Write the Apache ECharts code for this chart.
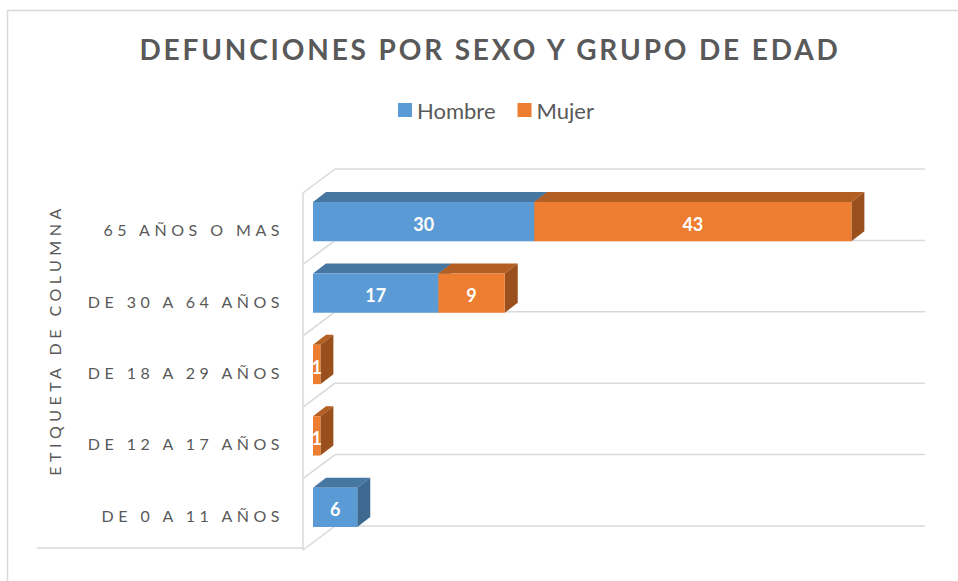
<!DOCTYPE html>
<html>
<head>
<meta charset="utf-8">
<script src="https://cdn.jsdelivr.net/npm/echarts@6/dist/echarts.min.js"></script>
<style>
  html, body { margin: 0; padding: 0; background: #fff; }
  #main { width: 958px; height: 581px; }
  /* espaciado de letras como en el original (solo textos en Lato "puro") */
  #main text[style*="Lato"]:not([style*="sans-serif"]) { letter-spacing: 4.5px; }
  #main text[style*="28px"][style*="Lato"] { letter-spacing: 2.85px; }
</style>
</head>
<body>
<div id="main"></div>
<script>
// datos (de abajo hacia arriba)
var categorias = ['DE 0 A 11 AÑOS', 'DE 12 A 17 AÑOS', 'DE 18 A 29 AÑOS', 'DE 30 A 64 AÑOS', '65 AÑOS O MAS'];
var hombre = [6, 0, 0, 17, 30];
var mujer = [0, 1, 1, 9, 43];
var ejeMax = 80;

var azul = ['#5B9BD5', '#4676A2', '#3E6A92'];     // frente, arriba, lado
var naranja = ['#ED7D31', '#B35E22', '#9A501C'];

// profundidad 3D
var barDepth = [13, -10];
var frontOff = [-10, 7];
var backOff = [22, -17];

var chart = echarts.init(document.getElementById('main'), null, {renderer: 'svg'});

function stackData(vals, base){
  var out = [];
  for (var i = 0; i < vals.length; i++) {
    var s = base ? base[i] : 0;
    out.push([s, s + vals[i], i, vals[i]]);
  }
  return out;
}

function makeBar(name, data, cols){
  return {
    name: name,
    type: 'custom',
    coordinateSystem: 'cartesian2d',
    color: cols[0],
    z: 5,
    data: data,
    renderItem: function(params, api){
      var start = api.value(0), end = api.value(1), cat = api.value(2), v = api.value(3);
      if (!(v > 0)) return;
      var p0 = api.coord([start, cat]);
      var p1 = api.coord([end, cat]);
      var h = api.size([0, 1])[1] * 0.55;
      var x0 = p0[0], x1 = p1[0];
      var yt = p0[1] - h / 2, yb = p0[1] + h / 2;
      var dx = barDepth[0], dy = barDepth[1];
      return {
        type: 'group',
        children: [
          {type: 'polygon', shape: {points: [[x0, yt], [x1, yt], [x1 + dx, yt + dy], [x0 + dx, yt + dy]]},
            style: {fill: cols[1]}},
          {type: 'polygon', shape: {points: [[x1, yt], [x1 + dx, yt + dy], [x1 + dx, yb + dy], [x1, yb]]},
            style: {fill: cols[2]}},
          {type: 'rect', shape: {x: x0, y: yt, width: x1 - x0, height: h},
            style: {fill: cols[0]}},
          {type: 'text', x: (x0 + x1) / 2, y: p0[1] + 2,
            style: {text: String(v), align: 'center', verticalAlign: 'middle',
              fill: '#fff', font: 'bold 18px Lato, sans-serif'}}
        ]
      };
    }
  };
}

// paredes y lineas de division
var frame = {
  type: 'custom',
  coordinateSystem: 'cartesian2d',
  silent: true,
  z: 1,
  data: [[0]],
  renderItem: function(params, api){
    var band = api.size([0, 1])[1];
    var base = api.coord([0, 0]);
    var right = api.coord([ejeMax, 0])[0];
    var kids = [];
    var ls = {stroke: '#D9D9D9', lineWidth: 1.5};
    var yBottom = base[1] + band / 2;
    var yTop = yBottom - categorias.length * band;
    kids.push({type: 'line', shape: {x1: base[0] + frontOff[0], y1: yTop + frontOff[1],
      x2: base[0] + frontOff[0], y2: yBottom + frontOff[1]}, style: ls});
    kids.push({type: 'line', shape: {x1: base[0] + frontOff[0] - 266, y1: yBottom + frontOff[1] - 2,
      x2: base[0] + frontOff[0], y2: yBottom + frontOff[1] - 2}, style: ls});
    for (var k = 0; k <= categorias.length; k++) {
      var y = yBottom - k * band;
      kids.push({type: 'line', shape: {x1: base[0] + frontOff[0], y1: y + frontOff[1],
        x2: base[0] + backOff[0], y2: y + backOff[1]}, style: ls});
      kids.push({type: 'line', shape: {x1: base[0] + backOff[0], y1: y + backOff[1],
        x2: right + backOff[0], y2: y + backOff[1]}, style: ls});
    }
    return {type: 'group', children: kids};
  }
};

var option = {
  backgroundColor: '#fff',
  animation: false,
  title: {
    text: 'DEFUNCIONES POR SEXO Y GRUPO DE EDAD',
    left: 485,
    textAlign: 'center',
    top: 30,
    textStyle: {fontFamily: 'Lato', fontSize: 28, fontWeight: 'bold', color: '#595959'}
  },
  legend: {
    top: 94,
    left: 393,
    icon: 'rect',
    itemWidth: 14,
    itemHeight: 14,
    itemGap: 22,
    textStyle: {fontFamily: 'Lato, sans-serif', fontSize: 22, color: '#595959'},
    data: ['Hombre', 'Mujer']
  },
  grid: {left: 313, top: 186, width: 590, height: 357},
  xAxis: {
    type: 'value', min: 0, max: ejeMax, show: false
  },
  yAxis: {
    type: 'category',
    data: categorias,
    axisLine: {show: false},
    axisTick: {show: false},
    splitLine: {show: false},
    axisLabel: {
      interval: 0,
      margin: 29,
      verticalAlign: 'top',
      fontFamily: 'Lato',
      fontSize: 16,
      color: '#595959'
    }
  },
  graphic: [
    {type: 'rect', left: 5, top: 8, silent: true, z: -10,
      shape: {width: 970, height: 600}, style: {fill: 'none', stroke: '#D9D9D9', lineWidth: 1.5}},
    {type: 'text', x: 54, y: 340, rotation: Math.PI / 2,
      style: {text: 'ETIQUETA DE COLUMNA', align: 'center', verticalAlign: 'middle',
        font: '16px Lato', fill: '#595959'}}
  ],
  series: [
    frame,
    makeBar('Hombre', stackData(hombre), azul),
    makeBar('Mujer', stackData(mujer, hombre), naranja)
  ]
};

chart.setOption(option);
</script>
</body>
</html>
